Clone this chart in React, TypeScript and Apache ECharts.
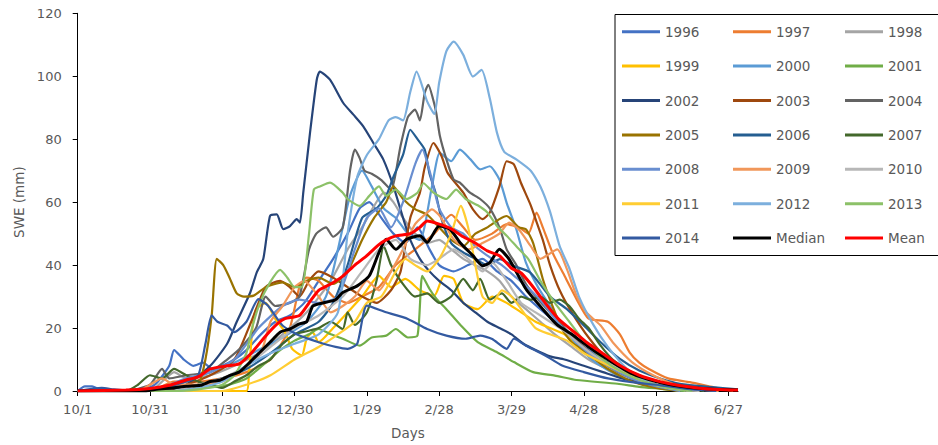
import React, { useEffect, useRef } from "react";
import * as echarts from "echarts";

// x = days since 10/1, y = SWE (mm)
const tickDays = [0, 30, 60, 90, 120, 150, 180, 210, 240, 270];
const tickLabels = ["10/1", "10/31", "11/30", "12/30", "1/29", "2/28", "3/29", "4/28", "5/28", "6/27"];

const y1996 = [[0,0],[3,1.5],[6,1.5],[9,0.5],[15,0],[25,0],[32,2],[38,8],[40,13],[44,10],[48,8],[52,9],[56,7],[60,8],[65,10],[70,13],[76,18],[82,22],[88,24],[94,28],[100,35],[106,42],[112,50],[117,58],[121,60],[126,55],[131,50],[136,47],[141,52],[146,45],[150,40],[156,38],[162,40],[168,42],[174,38],[180,35],[186,30],[192,26],[198,22],[204,18],[210,14],[218,10],[226,6],[235,3],[245,1],[255,0]];
const y1997 = [[0,0],[30,0],[40,3],[50,3],[60,4],[70,6],[80,10],[88,20],[92,33],[95,36],[100,35],[106,30],[112,28],[118,30],[125,33],[132,40],[140,45],[148,50],[155,56],[160,52],[165,48],[172,50],[178,53],[183,52],[187,50],[190.4,56.7],[193,52],[197,44],[202,36.6],[207,29.2],[212,23],[220,22],[225,18],[229,12.3],[233,9],[237,7],[245,4],[254,2.8],[265,1],[272,0]];
const y1998 = [[0,0],[30,0],[35,3],[40,6],[45,4],[55,5],[65,8],[75,12],[85,18],[95,25],[105,35],[112,45],[118,52],[123,58.8],[127,63],[131,60],[135,55],[140,50],[145,47],[150,48],[155,45],[160,42],[165,40],[170,38],[175,35],[180,30],[186,26],[192,22],[198,18],[205,14],[212,10],[220,7],[230,4],[240,2],[250,0.5],[258,0]];
const y1999 = [[0,0],[70,0],[71,5],[72.5,20],[74,26],[78,28],[82,22.9],[86,18.7],[89,13.4],[93,11.3],[95,16.6],[97.5,18.7],[100,15.5],[106,20],[112,25],[118,30],[125,36.6],[130,33],[136,35.6],[142,32],[148,30.3],[152,36.6],[156,35.6],[160,28],[166,26],[172,30],[178,28],[184,25],[190,22],[196,20],[202,18],[208,14],[215,10],[222,7],[230,4],[240,2],[250,0.5],[256,0]];
const y2000 = [[0,0],[35,0],[45,3],[55,6],[65,9],[75,13],[85,17],[95,22],[103,30],[108,45],[113,62],[118,70],[122,65],[127,58],[132,55],[137,50],[142,48],[147,65],[150.3,75.7],[155,73],[158.6,76.7],[163,73.6],[167,70.4],[171,71.4],[175,67.2],[178,59.8],[182,51.4],[186,40.8],[191,33],[196,27],[202,20],[208,14],[215,9],[224,5],[235,2],[245,0.5],[252,0]];
const y2001 = [[0,0],[40,0],[50,1],[60,1.5],[70,4],[78,9],[84,13],[90,16],[96,18],[100,19.7],[105,18],[110,16.6],[117,14.4],[122,17],[128,17.6],[132,19.7],[137,17],[141,17.6],[143,36.6],[146,32.4],[149,29.2],[153,26],[159,20.8],[166,15.5],[174,12.3],[181,9.2],[189,6],[198,4.9],[207,3.5],[224,2.3],[233,1.3],[242,0.7],[252,0]];
const y2002 = [[0,0],[35,0],[45,2],[55,8],[62,15],[66,22],[71.6,31.3],[74.3,37.7],[77,41.9],[79.8,55.6],[82.6,56.1],[85.3,51.4],[88.1,52.4],[90.9,54.6],[92.2,53.5],[93.6,63],[96.4,82],[99.2,98.9],[100.5,101.5],[104.7,98.9],[110.2,91.5],[114.4,87.8],[118.5,84.1],[122.7,78.8],[126.8,73.6],[131,65.1],[135,55],[138,48],[142,42],[146,38],[150,35],[155,32],[160,28],[165,25],[170,22],[175,20],[180,18],[185,15],[190,13],[196,11],[202,10],[210,8],[218,6],[226,4],[234,2.5],[242,1.2],[250,0.5],[258,0]];
const y2003 = [[0,0],[35,0],[45,2],[55,5],[65,10],[72,22],[78,33],[84,35],[88,33],[92,30],[96,35],[100,38],[106,36],[112,33],[118,30],[124,28],[130,32],[134,38],[138,55],[142,63],[144,71],[147.6,78.8],[151,74.6],[153.5,69.3],[160,63],[164,57.7],[168,54.6],[171,56.7],[175,65],[178,73],[181,72],[184,66],[188,59],[190.5,53.5],[193,48],[196,40],[200,32],[205,25],[212,17],[220,10],[230,5],[240,2],[250,0.5],[258,0]];
const y2004 = [[0,0],[20,0],[30,2],[35,7],[38,4],[45,5],[55,6],[62,10],[68,14],[74,20],[78,30],[82,27],[88,28],[92,30],[96,45],[99,50],[103,52],[106,49],[110,52],[113,70],[115,76.7],[117,74],[119,70],[122,69],[126,67],[130,64],[134,78],[137,87],[140,89.4],[142,86],[144,94.7],[145.5,97.3],[147.5,92.6],[148.8,88.3],[150.3,81],[153,73.6],[156,67.2],[158.6,66.2],[162.8,63],[167,61],[171,58],[175,52],[178,45],[182,40],[186,34],[190,30],[196,25],[202,20],[210,14],[220,8],[230,4],[240,1.5],[250,0.5],[258,0]];
const y2005 = [[0,0],[45,0],[50,2],[53,10],[55.6,24],[57.7,42],[60.4,40],[63,36],[66,31],[69,30],[73,30.3],[78,33],[85,34.5],[90,33],[95,35],[100,36],[106,34],[112,38],[118,48],[123,55],[128,60],[131,65],[135,61],[140,57.8],[145,56],[150,52],[155,48],[160,46],[165,50],[170,52],[175,54.6],[178,55.6],[183,52],[186,51.4],[189,47],[193,35.6],[197,27],[201,19.7],[205,15.5],[211,12.3],[220,7],[230,3],[240,1],[250,0]];
const y2006 = [[0,0],[30,0],[40,1],[50,2],[60,4],[70,7],[80,12],[90,18],[100,22],[106,28],[112,40],[118,55],[124,58],[128,62],[131,68],[135,75],[138,83],[141,80],[144,76.7],[146,69],[148.5,63],[151,54.6],[155,47],[160,44],[165,42],[170,40],[175.2,41.9],[180.6,39.8],[187.7,37.7],[196,30],[203,26],[210,20.8],[217,15.5],[225,10.2],[233,6.5],[242,3.9],[250,2.3],[262,1.3],[274,0.5]];
const y2007 = [[0,0],[20,0],[25,2],[30,5],[35,4],[40,7],[45,5],[50,3],[55,2],[60,1],[65,3],[70,5],[75,8],[80,10],[85,15],[90,18],[95,19],[100,20],[105,22],[110,19.7],[112,25],[115,21],[120,25],[124,35],[127,46],[130,40],[134,35],[140,30],[145,31],[150,28],[155,30],[160,35.6],[164,32],[167,35.6],[171,29],[176,31],[180,28],[184,30],[188,29],[192,30],[196,28],[200,29],[204,27],[208,23],[212,20],[217,14.4],[222,10],[230,6],[240,3],[250,1],[260,0]];
const y2008 = [[0,0],[30,0],[38,2],[45,4],[55,6],[65,10],[75,20],[85,27],[92,29],[100,28],[108,30],[115,45],[120,55],[125,58],[130,52],[135,60],[140,72],[143,76.7],[146,70],[150,58],[155,52],[160,50],[165,46],[170,43],[176,40],[182,36],[188,32],[193,28],[199,22],[205,17],[212,12],[220,8],[230,4],[240,1.5],[250,0]];
const y2009 = [[0,0],[25,0],[30,2],[35,4],[40,2],[50,2],[60,3],[70,8],[76,12],[80,22],[85,27],[90,33],[94,35],[100,30],[105,25],[110,27],[115,30],[120,35],[125,32],[130,38],[135,45],[140,53],[144,56],[147,57.7],[150.3,55.6],[156,48.2],[162,45],[168,47],[175,50],[179,53.5],[183,51.4],[188,46],[192,42],[199,45],[203,38.7],[207,30.3],[211,25],[217,20.8],[222,15.5],[230,9.2],[239,4.9],[248,2],[258,0.5],[266,0]];
const y2010 = [[0,0],[40,0],[50,2],[60,4],[70,8],[80,14],[90,20],[100,24],[110,30],[118,38],[125,45],[132,48],[138,42],[145,40],[150,42],[156,45],[162,42],[168,38],[172,40.8],[178,35],[184,28],[190,25],[196,22],[202,19],[208,15],[215,11],[222,8],[230,5],[240,2],[250,0.5],[258,0]];
const y2011 = [[0,0],[60,0],[70,2],[80,5],[90,10],[100,14],[108,18],[115,22],[120,28],[126,30],[132,38],[136,42],[140,40],[145,38],[150,42],[155,50],[159,58.8],[162,52],[165,40],[168,30],[172,28],[176,32],[180,30],[185,25],[190,20],[196,18],[203,16],[210,12],[218,9],[226,6],[235,3],[245,1],[255,0]];
const y2012 = [[0,0],[40,0],[50,1],[60,3],[70,8],[80,12],[90,15],[100,18],[108,25],[112,50],[116,68],[120,75],[125,80],[129,86],[132,87],[135,86],[138,95],[140.6,101.5],[145,92],[148,88],[150,98],[153,108],[156,111],[160,106.8],[164,99.9],[167.6,102],[171,93],[174,82],[177,76],[182,73.6],[188,70],[192,65],[196,57],[200,46],[204,39],[208,30],[214,21],[220,14],[228,7],[236,3],[245,1],[255,0]];
const y2013 = [[0,0],[40,0],[50,0.5],[60,2],[65,5],[70,12],[72,19],[75.6,28],[79.8,34.5],[84,38.5],[87,36],[90,33],[93,33],[96,50],[98,64],[100.5,65],[104.7,66.2],[110,63],[112,61],[117,58.8],[121,62],[125,65],[128,62],[132,64],[136.5,61],[141,63],[143.5,66],[147.6,63],[153,61],[157,64],[161,61],[166,59],[170,56.7],[174,52.4],[178,49.3],[182,46],[187,41.9],[192,35],[198,28],[204,22],[210,16],[218,10],[226,6],[235,3],[245,1],[255,0]];
const y2014 = [[0,0],[10,1],[15,0.5],[25,0],[35,1],[45,3],[50,5],[53,15],[55.6,24],[58,22],[62,20.8],[65,18.7],[70,22],[75,29.2],[79,27.1],[85,20.8],[92,17.6],[100,15.5],[107,14],[112,13.4],[116,15],[120,27.1],[128,25],[137,22.9],[145,19.7],[153,17.6],[161,16.6],[167,17.6],[172,16.5],[178,13.4],[181,16.6],[186,14.4],[194,11.3],[201,8.1],[210,6],[220,4],[230,2.8],[242,1.8],[255,0.5],[265,0]];
const median = [[0,0],[28,0],[32,0.5],[40,1],[45,1.5],[51,1.8],[55,3],[59,3.4],[63,4.9],[67,6],[71.5,9.2],[75.6,12.3],[79.8,15.5],[84,18.7],[88,19.7],[92,21.3],[95,22],[97.6,27],[103,28.2],[107,29],[110,31.3],[116,33.4],[121,36.6],[125,44],[128,48.2],[132,45],[136.5,48.2],[142,49.3],[145,47.2],[150,52.4],[154.5,51.4],[158.6,47.2],[164,43],[168,39.8],[171,40.8],[175,45],[179,41.9],[186,32.4],[193,26],[199,21],[205,18],[212,14],[220,10],[230,5.5],[240,3],[250,1.5],[260,0.7],[274,0.3]];
const mean = [[0,0],[20,0.3],[30,0.8],[38,1.8],[45,3.5],[50,4.5],[55,7],[62,8],[67,8.6],[72,12],[78,17.5],[83,21.5],[86,23],[92,24],[96,28],[100,32],[105,34],[110,36.5],[115,40],[120,43],[125,46.5],[128,48],[132,49.3],[138,50],[142,52],[145,54],[150,53],[155,51.5],[160,49],[165,47],[170,44.5],[175,43],[180,39],[184,37.5],[188,34],[192,30],[196,26],[200,22.5],[204,20],[208,17.5],[212,15],[217,12.4],[225,8.1],[233,5],[242,2.9],[249,1.8],[258,0.9],[266,0.5],[274,0.3]];

const seriesNames = ["1996","1997","1998","1999","2000","2001","2002","2003","2004","2005","2006","2007","2008","2009","2010","2011","2012","2013","2014","Median","Mean"];
const seriesData = [y1996,y1997,y1998,y1999,y2000,y2001,y2002,y2003,y2004,y2005,y2006,y2007,y2008,y2009,y2010,y2011,y2012,y2013,y2014,median,mean];
const seriesColors = ["#4472C4","#ED7D31","#A5A5A5","#FFC000","#5B9BD5","#70AD47","#264478","#9E480E","#636363","#997300","#255E91","#43682B","#698ED0","#F1975A","#B7B7B7","#FFCD33","#7CAFDD","#8CC168","#335AA1","#000000","#FF0000"];

const FONT = "DejaVu Sans";
const TXT = "#595959";

export default function App() {
  const ref = useRef<HTMLDivElement>(null);
  useEffect(() => {
    if (!ref.current) return;
    const chart = echarts.init(ref.current, null, { renderer: "svg" });
    const cols = [0, 1, 2].map((c) => seriesNames.filter((_, i) => i % 3 === c));
    const colLeft = [622, 733, 845];
    chart.setOption({
      animation: false,
      backgroundColor: "#ffffff",
      grid: { left: 77.7, right: 200, top: 13.3, bottom: 52.7 },
      xAxis: {
        type: "value",
        min: 0,
        max: 274,
        interval: 30,
        name: "Days",
        nameLocation: "middle",
        nameGap: 35,
        nameTextStyle: { color: TXT, fontSize: 13.5, fontFamily: FONT },
        axisLine: { show: true, lineStyle: { color: "#000", width: 1 } },
        axisTick: { show: true, length: 5, lineStyle: { color: "#000" }, customValues: tickDays },
        splitLine: { show: false },
        axisLabel: {
          customValues: tickDays,
          color: TXT,
          fontSize: 13,
          fontFamily: FONT,
          margin: 12,
          formatter: (v: number) => (v % 30 === 0 ? tickLabels[Math.round(v / 30)] ?? "" : ""),
        },
      },
      yAxis: {
        type: "value",
        min: 0,
        max: 120,
        interval: 20,
        name: "SWE (mm)",
        nameLocation: "middle",
        nameGap: 49,
        nameTextStyle: { color: TXT, fontSize: 13.5, fontFamily: FONT },
        axisLine: { show: true, lineStyle: { color: "#000", width: 1 } },
        axisTick: { show: true, length: 5, lineStyle: { color: "#000" } },
        splitLine: { show: false },
        axisLabel: { color: TXT, fontSize: 13, fontFamily: FONT, margin: 16 },
      },
      legend: cols.map((names, c) => ({
        orient: "vertical",
        left: colLeft[c],
        top: 23.7,
        padding: 0,
        itemGap: 18.4,
        itemWidth: 38,
        itemHeight: 3,
        icon: "rect",
        selectedMode: false,
        data: names,
        textStyle: { color: TXT, fontSize: 13.5, fontFamily: FONT, lineHeight: 16 },
      })),
      graphic: [
        {
          type: "rect",
          shape: { x: 615, y: 14.5, width: 330, height: 241 },
          style: { fill: "none", stroke: "#000", lineWidth: 1 },
          silent: true,
        },
      ],
      series: seriesNames.map((name, i) => ({
        name,
        type: "line",
        data: seriesData[i],
        showSymbol: false,
        symbol: "none",
        smooth: 0.2,
        color: seriesColors[i],
        lineStyle: { color: seriesColors[i], width: i >= 19 ? 3 : 2.2 },
        z: i >= 19 ? 5 : 2,
      })),
    });
    return () => chart.dispose();
  }, []);
  return (
    <div
      ref={ref}
      style={{ position: "fixed", left: 0, top: 0, width: 938, height: 445, background: "#fff" }}
    />
  );
}
